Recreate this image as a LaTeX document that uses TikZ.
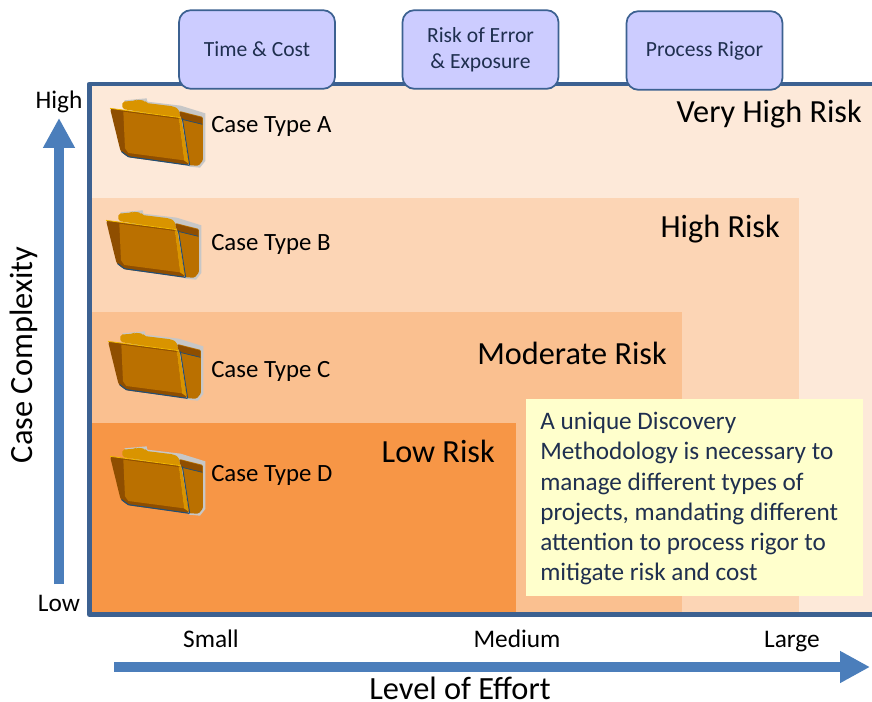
\documentclass[tikz,border=0pt]{standalone}
\usepackage{fontspec}
\setmainfont{Carlito}
\usetikzlibrary{positioning,shapes,arrows,arrows.meta}
\definecolor{framecol}{HTML}{3C6191}
\definecolor{arrowcol}{HTML}{4B7EBB}
\definecolor{riskvh}{HTML}{FDE9D9}
\definecolor{riskh}{HTML}{FCD5B5}
\definecolor{riskm}{HTML}{FAC090}
\definecolor{riskl}{HTML}{F79646}
\definecolor{notecol}{HTML}{FFFFCC}
\definecolor{btncol}{HTML}{CCCCFF}
\definecolor{inkcol}{HTML}{1F2F4F}
\definecolor{foldertop}{HTML}{D99400}
\definecolor{folderbody}{HTML}{BA7000}
\definecolor{folderdeep}{HTML}{8F4E00}
\definecolor{folderblue}{HTML}{1F4E79}
\definecolor{folderedge}{HTML}{F2B800}
\tikzset{
  folder/.pic={
    % shadow
    \fill[black!22] (103,46) -- (170,40) -- (172,50) -- (272,62) -- (346,85) -- (346,228) -- (330,248) -- (298,245) -- (110,60) -- cycle;
    % back sheet
    \fill[foldertop,rounded corners=1.5pt] (97,72) -- (97,50) -- (135,47) -- (140,44) -- (165,47) -- (168,54) -- (250,64) -- (266,72) -- (272,100) -- cycle;
    % right panel
    \fill[folderbody,rounded corners=1pt] (268,78) -- (339,96) -- (339,226) -- (326,242) -- (298,241) -- (276,100) -- cycle;
    \fill[folderdeep] (268,80) -- (337,98) -- (337,118) -- (273,103) -- cycle;
    \draw[folderblue,line width=0.5pt] (272,102) -- (337,118);
    \draw[folderblue,line width=0.7pt] (277,100) -- (299,241);
    % front
    \fill[folderdeep,rounded corners=2pt] (60,70) -- (272,98) -- (298,241) -- (115,217) -- (92,200) -- cycle;
    \fill[folderbody] (100,80) -- (266,102) -- (282,226) -- (115,204) -- (105,190) -- cycle;
    \fill[foldertop] (266,100) -- (274,100) -- (296,236) -- (282,226) -- cycle;
    \draw[folderedge,line width=0.6pt] (60,70) -- (272,98);
    \draw[folderblue,line width=0.8pt] (95,200) -- (115,215) -- (298,241);
  },
  btnbox/.style={draw=framecol,line width=1.3pt,fill=btncol,rounded corners=9pt,text=inkcol,
    minimum width=117pt,minimum height=59pt,align=center,font=\fontsize{16.2}{19.5}\selectfont},
  casetext/.style={anchor=west,inner sep=0pt,font=\fontsize{18.6}{22}\selectfont},
  risktext/.style={anchor=east,inner sep=0pt,font=\fontsize{24.2}{28}\selectfont},
  scaletext/.style={font=\fontsize{19}{22}\selectfont},
  axistext/.style={inner sep=0pt,font=\fontsize{24.3}{28}\selectfont},
  axisarrow/.style={draw=arrowcol,line width=7.5pt,-{Triangle[length=22.5pt,width=22.5pt]}},
}
\begin{document}
\begin{tikzpicture}[x=0.75pt,y=-0.75pt]
  \useasboundingbox (0,0) rectangle (872,702);

  % risk areas
  \fill[riskvh] (89,84) rectangle (872,615);
  \fill[riskh]  (92,198) rectangle (799,615);
  \fill[riskm]  (92,312) rectangle (682,615);
  \fill[riskl]  (92,423) rectangle (516,615);
  \draw[framecol,line width=3.7pt,line join=round] (872,84) -- (89.5,84) -- (89.5,614.5) -- (872,614.5);

  \node[btnbox] (time)  at (257,49.5)   {Time \& Cost};
  \node[btnbox] (error) at (480.5,49.5) {Risk of Error\\\& Exposure};
  \node[btnbox] (rigor) at (704.5,50.5) {Process Rigor};

  \node[risktext] (veryhigh) at (862,114) {Very High Risk};
  \node[risktext] (high)     at (780,229) {High Risk};
  \node[risktext] (moderate) at (667,353) {Moderate Risk};
  \node[risktext] (low)      at (495,451) {Low Risk};

  \pic[shift={(90,85)},scale=1/3] (foldera) {folder};
  \pic[shift={(86,197)},scale=1/3] (folderb) {folder};
  \pic[shift={(88,318)},scale=1/3] (folderc) {folder};
  \pic[shift={(90,433)},scale=1/3] (folderd) {folder};

  \node[casetext] (casea) at (211,126) {Case Type A};
  \node[casetext] (caseb) at (211,244) {Case Type B};
  \node[casetext] (casec) at (211,371) {Case Type C};
  \node[casetext] (cased) at (211,475) {Case Type D};

  \node[fill=notecol,anchor=north west,inner sep=0pt,minimum width=252.75pt,minimum height=147.75pt] (note) at (526,399) {};
  \node[text=inkcol,anchor=north west,inner sep=0pt,align=left,font=\fontsize{18.9}{22.7}\selectfont] (notetext) at (540,412)
    {A unique Discovery\\Methodology is necessary to\\manage different types of\\projects, mandating different\\attention to process rigor to\\mitigate risk and cost};

  \node[scaletext] (high2)  at (59,102)  {High};
  \node[scaletext] (low2)   at (59,603)  {Low};
  \node[scaletext] (small)  at (211,639) {Small};
  \node[scaletext] (medium) at (517,639) {Medium};
  \node[scaletext] (large)  at (792,642) {Large};

  \coordinate (ybase) at (59,584);
  \coordinate (ytop)  at (59,118);
  \coordinate (xbase) at (114,667);
  \coordinate (xtop)  at (870,667);
  \draw[axisarrow] (ybase) -- (ytop);
  \draw[axisarrow] (xbase) -- (xtop);

  \node[axistext,rotate=90] (complexity) at (24,355) {Case Complexity};
  \node[axistext] (effort) at (460,688) {Level of Effort};
\end{tikzpicture}
\end{document}
